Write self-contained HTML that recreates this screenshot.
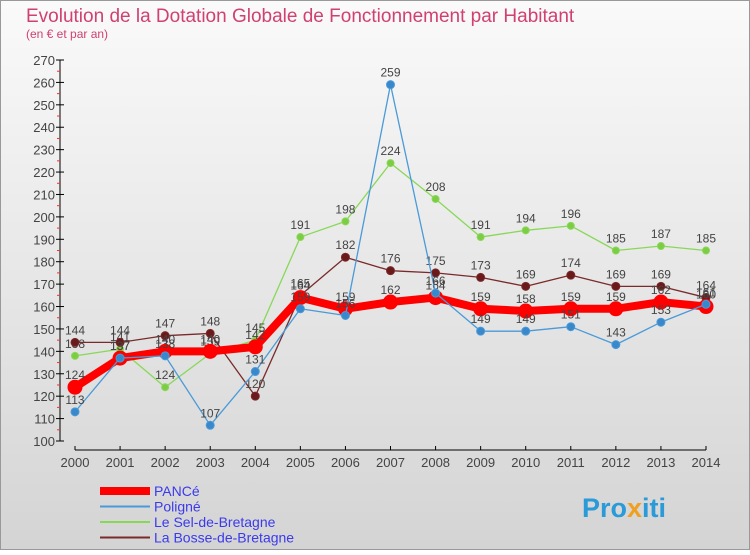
<!DOCTYPE html>
<html><head><meta charset="utf-8"><style>
body{margin:0;width:750px;height:550px;overflow:hidden;font-family:"Liberation Sans",sans-serif}
svg text{font-family:"Liberation Sans",sans-serif}
</style></head><body>
<svg width="750" height="550">
<defs><linearGradient id="bg" x1="0" y1="0" x2="0" y2="1"><stop offset="0" stop-color="#fafafa"/><stop offset="1" stop-color="#d4d4d4"/></linearGradient></defs>
<rect width="750" height="550" fill="url(#bg)"/>
<rect x="0.5" y="0.5" width="749" height="549" fill="none" stroke="#999"/>
<text x="26" y="22" font-size="19" fill="#d04070">Evolution de la Dotation Globale de Fonctionnement par Habitant</text>
<text x="26" y="38" font-size="12" fill="#d04070">(en € et par an)</text>
<g id="axes"></g><g id="series"></g>
<text x="582" y="517" font-size="27" font-weight="bold" fill="#2a9ad8">Pro<tspan fill="#f0a020">x</tspan>iti</text>
</svg>
<script>
const years=[2000,2001,2002,2003,2004,2005,2006,2007,2008,2009,2010,2011,2012,2013,2014];
const pance=[124,137,140,140,142,164,159,162,164,159,158,159,159,162,160];
const poligne=[113,137,138,107,131,159,156,259,166,149,149,151,143,153,161];
const sel=[138,141,124,139,145,191,198,224,208,191,194,196,185,187,185];
const bosse=[144,144,147,148,120,165,182,176,175,173,169,174,169,169,164];
const yTicks=[100,110,120,130,140,150,160,170,180,190,200,210,220,230,240,250,260,270];
const NS="http://www.w3.org/2000/svg";
const X=i=>75+i*(706-75)/(years.length-1);
const Y=v=>441-(v-100)*(381/170);
function mk(tag,attrs,parent,text){const e=document.createElementNS(NS,tag);for(const k in attrs)e.setAttribute(k,attrs[k]);if(text!==undefined)e.textContent=text;parent.appendChild(e);return e;}
const ax=document.getElementById('axes');
let e=mk('line',{x1:60,y1:60,x2:60,y2:441,stroke:'#000'},ax);

yTicks.forEach((v,k)=>{mk('line',{x1:56,y1:Y(v),x2:64,y2:Y(v),stroke:'#000'},ax);
 if(k<yTicks.length-1)mk('line',{x1:57,y1:Y(v+5),x2:60,y2:Y(v+5),stroke:'#e33'},ax);
 const t=mk('text',{x:55,y:Y(v)+5,'text-anchor':'end','font-size':13,fill:'#444'},ax,v);
 });
e=mk('line',{x1:75,y1:450,x2:706,y2:450,stroke:'#000'},ax);

years.forEach((y,i)=>{mk('line',{x1:X(i),y1:446,x2:X(i),y2:450,stroke:'#000'},ax);
 const t=mk('text',{x:X(i),y:467,'text-anchor':'middle','font-size':13,fill:'#444'},ax,y);
 });
const sg=document.getElementById('series');
function series(data,color,w,r,name,dot){
 const g=mk('g',{},sg);
 
 mk('polyline',{points:data.map((v,i)=>X(i)+','+Y(v)).join(' '),fill:'none',stroke:color,'stroke-width':w,'stroke-linejoin':'round'},g);
 data.forEach((v,i)=>{const c=mk('circle',{cx:X(i),cy:Y(v),r:r,fill:dot,stroke:color,'stroke-width':1},g);
 
 const t=mk('text',{x:X(i),y:Y(v)-8,'text-anchor':'middle','font-size':12,fill:'#444'},g,v);
 });
}
series(sel,'#88d858',1.3,3.5,'series-sel-de-bretagne','#7ccc44');
series(bosse,'#7a2a2a',1.3,4,'series-la-bosse-de-bretagne','#6a1a1a');
series(pance,'#ff0000',8,7,'series-pance','#ff0000');
series(poligne,'#4a9ad8',1.3,4,'series-poligne','#3a88cc');
const leg=[['PANCé','#ff0000',8],['Poligné','#4a9ad8',2],['Le Sel-de-Bretagne','#88d858',2],['La Bosse-de-Bretagne','#7a2a2a',2]];
leg.forEach((l,i)=>{const y=491+i*15.5;
 const g=mk('g',{},document.querySelector('svg'));
 
 mk('line',{x1:100,y1:y,x2:150,y2:y,stroke:l[1],'stroke-width':l[2]},g);
 mk('text',{x:154,y:y+5,'font-size':14,fill:'#3a3aee'},g,l[0]);});
</script>
</body></html>
